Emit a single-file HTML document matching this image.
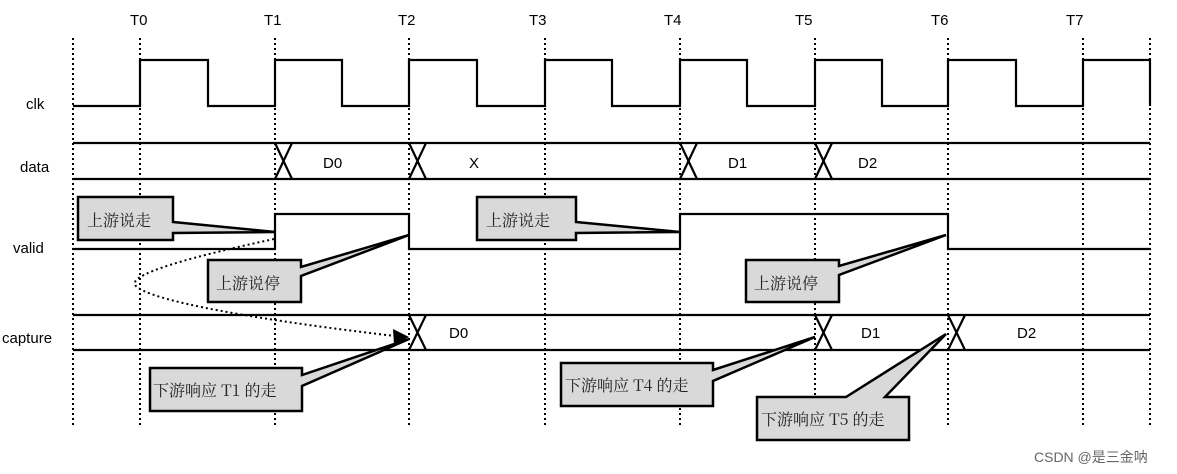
<!DOCTYPE html>
<html><head><meta charset="utf-8"><style>
html,body{margin:0;padding:0;background:#fff;}
svg{display:block;}
text{font-family:"Liberation Sans","Noto Sans CJK SC",sans-serif;font-size:15px;fill:#000;}
.cj{font-family:"Noto Serif CJK SC","Liberation Serif",serif;font-size:16px;fill:#222;}
.cb{fill:#d9d9d9;stroke:#000;stroke-width:2.5;stroke-linejoin:miter;}
</style></head><body>
<svg width="1177" height="474" viewBox="0 0 1177 474" xmlns="http://www.w3.org/2000/svg">
<g stroke="#000" stroke-width="2" stroke-dasharray="2,3">
<line x1="73" y1="38" x2="73" y2="428"/><line x1="140" y1="38" x2="140" y2="428"/>
<line x1="275" y1="38" x2="275" y2="428"/><line x1="409" y1="38" x2="409" y2="428"/>
<line x1="545" y1="38" x2="545" y2="428"/><line x1="680" y1="38" x2="680" y2="428"/>
<line x1="815" y1="38" x2="815" y2="428"/><line x1="948" y1="38" x2="948" y2="428"/>
<line x1="1083" y1="38" x2="1083" y2="428"/><line x1="1150" y1="38" x2="1150" y2="428"/>
</g>
<g>
<text x="130" y="25">T0</text><text x="264" y="25">T1</text><text x="398" y="25">T2</text>
<text x="529" y="25">T3</text><text x="664" y="25">T4</text><text x="795" y="25">T5</text>
<text x="931" y="25">T6</text><text x="1066" y="25">T7</text>
<text x="26" y="109">clk</text><text x="20" y="172">data</text>
<text x="13" y="253">valid</text><text x="2" y="343">capture</text>
</g>
<g fill="none" stroke="#000" stroke-width="2.2">
<polyline points="73,106 140,106 140,60 208,60 208,106 275,106 275,60 342,60 342,106 409,106 409,60 477,60 477,106 545,106 545,60 612,60 612,106 680,106 680,60 747,60 747,106 815,106 815,60 882,60 882,106 948,106 948,60 1016,60 1016,106 1083,106 1083,60 1150,60 1150,106"/>
<line x1="73" y1="143" x2="1150" y2="143"/><line x1="73" y1="179" x2="1150" y2="179"/>
<line x1="275" y1="143" x2="292" y2="179"/><line x1="292" y1="143" x2="275" y2="179"/>
<line x1="409" y1="143" x2="426" y2="179"/><line x1="426" y1="143" x2="409" y2="179"/>
<line x1="680" y1="143" x2="697" y2="179"/><line x1="697" y1="143" x2="680" y2="179"/>
<line x1="815" y1="143" x2="832" y2="179"/><line x1="832" y1="143" x2="815" y2="179"/>
<polyline points="73,249 275,249 275,214 409,214 409,249 680,249 680,214 948,214 948,249 1150,249"/>
<line x1="73" y1="315" x2="1150" y2="315"/><line x1="73" y1="350" x2="1150" y2="350"/>
<line x1="409" y1="315" x2="426" y2="350"/><line x1="426" y1="315" x2="409" y2="350"/>
<line x1="815" y1="315" x2="832" y2="350"/><line x1="832" y1="315" x2="815" y2="350"/>
<line x1="948" y1="315" x2="965" y2="350"/><line x1="965" y1="315" x2="948" y2="350"/>
</g>
<text x="323" y="168">D0</text><text x="469" y="168">X</text><text x="728" y="168">D1</text><text x="858" y="168">D2</text>
<text x="449" y="338">D0</text><text x="861" y="338">D1</text><text x="1017" y="338">D2</text>
<path d="M274,239 C200,255 120,275 137,287 C160,305 300,325 395,336" fill="none" stroke="#000" stroke-width="2" stroke-dasharray="2,3"/>
<polygon points="409,337 393,329 394,345" fill="#000"/>
<polygon class="cb" points="78,197 173,197 173,222 275,232 173,233 173,240 78,240"/>
<polygon class="cb" points="477,197 576,197 576,222 680,232 576,233 576,240 477,240"/>
<polygon class="cb" points="208,260 301,260 301,267 409,235 301,276 301,302 208,302"/>
<polygon class="cb" points="746,260 839,260 839,266 946,235 839,275 839,302 746,302"/>
<polygon class="cb" points="150,368 302,368 302,375 409,339 302,386 302,411 150,411"/>
<polygon class="cb" points="561,363 713,363 713,370 815,337 713,381 713,406 561,406"/>
<polygon class="cb" points="757,397 846,397 946,334 885,397 909,397 909,440 757,440"/>
<text class="cj" x="87" y="226">上游说走</text>
<text class="cj" x="486" y="226">上游说走</text>
<text class="cj" x="216" y="289">上游说停</text>
<text class="cj" x="754" y="289">上游说停</text>
<text class="cj" x="153" y="396">下游响应 T1 的走</text>
<text class="cj" x="565" y="391">下游响应 T4 的走</text>
<text class="cj" x="761" y="425">下游响应 T5 的走</text>
<text x="1034" y="462" style="font-size:14px;fill:#666">CSDN @是三金呐</text>
</svg>
</body></html>
